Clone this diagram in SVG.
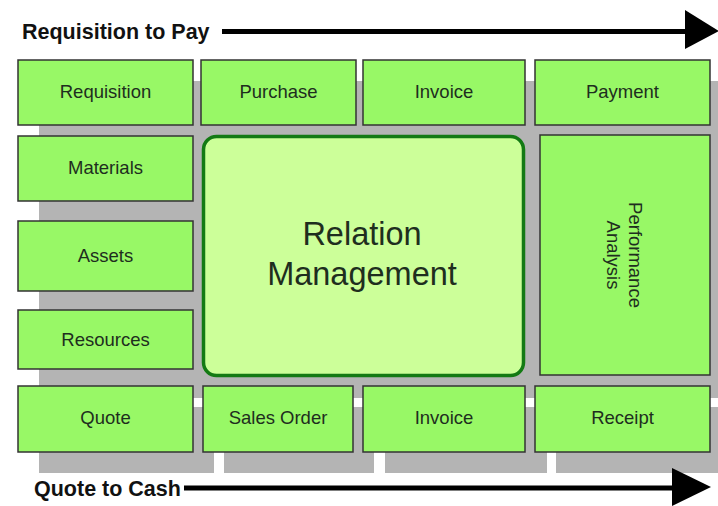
<svg xmlns="http://www.w3.org/2000/svg" width="718" height="506" viewBox="0 0 718 506">
<style>
.sh{fill:#b4b4b4}
.box{fill:#98f866;stroke:#333;stroke-width:1.5}
.lbl{font-family:"Liberation Sans",Arial,sans-serif;font-size:18.5px;fill:#1e2e1e;text-anchor:middle}
.big{font-family:"Liberation Sans",Arial,sans-serif;font-size:32.5px;fill:#1e2e1e;text-anchor:middle}
.ttl{font-family:"Liberation Sans",Arial,sans-serif;font-size:21.5px;font-weight:bold;fill:#111}
.ln{stroke:#000;stroke-width:5;fill:none}
</style>
<rect width="718" height="506" fill="#fff"/>
<g id="shadows">
<rect class="sh" x="39" y="81" width="679" height="317"/>
<rect class="sh" x="39" y="81" width="175" height="65"/>
<rect class="sh" x="222" y="81" width="155" height="65"/>
<rect class="sh" x="384" y="81" width="162" height="65"/>
<rect class="sh" x="556" y="81" width="162" height="65"/>
<rect class="sh" x="39" y="157" width="175" height="65"/>
<rect class="sh" x="39" y="242" width="175" height="70"/>
<rect class="sh" x="39" y="331" width="175" height="60"/>
<rect class="sh" x="223" y="156" width="323" height="242"/>
<rect class="sh" x="561" y="156" width="157" height="240"/>
<rect class="sh" x="39" y="407" width="175" height="66"/>
<rect class="sh" x="224" y="407" width="150" height="66"/>
<rect class="sh" x="385" y="407" width="162" height="66"/>
<rect class="sh" x="556" y="407" width="162" height="66"/>
</g>
<g id="requisition"><rect class="box" x="18" y="60" width="175" height="65"/><text class="lbl" x="105.5" y="98">Requisition</text></g>
<g id="purchase"><rect class="box" x="201" y="60" width="155" height="65"/><text class="lbl" x="278.5" y="98">Purchase</text></g>
<g id="invoice-top"><rect class="box" x="363" y="60" width="162" height="65"/><text class="lbl" x="444" y="98">Invoice</text></g>
<g id="payment"><rect class="box" x="535" y="60" width="175" height="65"/><text class="lbl" x="622.5" y="98">Payment</text></g>
<g id="materials"><rect class="box" x="18" y="136" width="175" height="65"/><text class="lbl" x="105.5" y="174">Materials</text></g>
<g id="assets"><rect class="box" x="18" y="221" width="175" height="70"/><text class="lbl" x="105.5" y="262">Assets</text></g>
<g id="resources"><rect class="box" x="18" y="310" width="175" height="59"/><text class="lbl" x="105.5" y="346">Resources</text></g>
<g id="relation-management"><rect x="203.5" y="136.5" width="320" height="239" rx="13" fill="#ccff99" stroke="#137a13" stroke-width="3.5"/><text class="big" x="362" y="245">Relation</text><text class="big" x="362" y="285">Management</text></g>
<g id="performance-analysis"><rect class="box" x="540" y="135" width="170" height="240"/><g transform="translate(625 255) rotate(90)"><text class="lbl" x="0" y="-4">Performance</text><text class="lbl" x="0" y="18">Analysis</text></g></g>
<g id="quote"><rect class="box" x="18" y="386" width="175" height="66"/><text class="lbl" x="105.5" y="424">Quote</text></g>
<g id="sales-order"><rect class="box" x="203" y="386" width="150" height="66"/><text class="lbl" x="278" y="424">Sales Order</text></g>
<g id="invoice-bottom"><rect class="box" x="363" y="386" width="162" height="66"/><text class="lbl" x="444" y="424">Invoice</text></g>
<g id="receipt"><rect class="box" x="535" y="386" width="175" height="66"/><text class="lbl" x="622.5" y="424">Receipt</text></g>
<g id="connectors">
<line class="ln" x1="222" y1="31.5" x2="688" y2="31.5"/>
<polygon points="685,10 719,31 685,49" fill="#000"/>
<line class="ln" x1="184" y1="488" x2="675" y2="488"/>
<polygon points="672,468 711,487 672,506" fill="#000"/>
</g>
<text class="ttl" x="22" y="39">Requisition to Pay</text>
<text class="ttl" x="34" y="496">Quote to Cash</text>
</svg>
